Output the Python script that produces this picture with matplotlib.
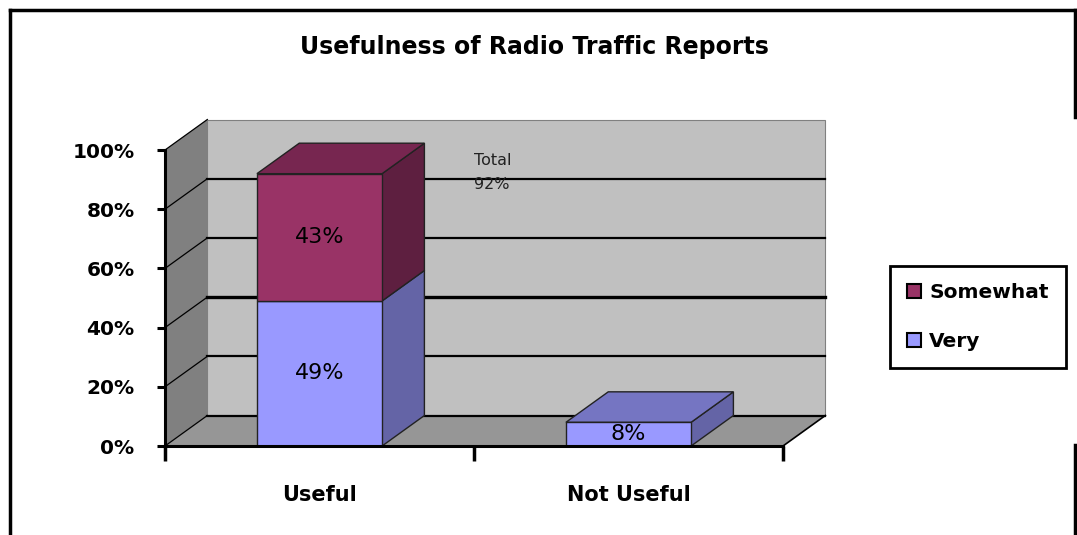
import matplotlib.pyplot as plt
from matplotlib.patches import Polygon, Patch
from matplotlib.lines import Line2D

# chart data
categories = ["Useful", "Not Useful"]
very = [49, 8]
somewhat = [43, 0]
totals = [92, 8]
series_names = ["Somewhat", "Very"]
yticks = [0, 20, 40, 60, 80, 100]
ytick_labels = ["0%", "20%", "40%", "60%", "80%", "100%"]

W, H = 1077, 535
fig = plt.figure(figsize=(W / 100, H / 100), dpi=100)
fig.patch.set_facecolor("white")

# front plane of the fake 3D box
ax = fig.add_axes([165 / W, 1 - 446 / H, 618 / W, 296 / H])
ax.set_xlim(0, len(categories))
ax.set_ylim(0, 100)
ax.set_facecolor("none")

DX, DY = 0.137, 10.3   # depth offset (x units, % units)
n = len(categories)

# walls and floor
ax.add_patch(Polygon([(DX, DY), (n + DX, DY), (n + DX, 100 + DY), (DX, 100 + DY)],
                     closed=True, fc="#c0c0c0", ec="#808080", lw=0.8, clip_on=False, zorder=0.5))
ax.add_patch(Polygon([(0, 0), (DX, DY), (DX, 100 + DY), (0, 100)],
                     closed=True, fc="#808080", ec="none", clip_on=False, zorder=0.6))
ax.add_patch(Polygon([(0, 0), (n, 0), (n + DX, DY), (DX, DY)],
                     closed=True, fc="#969696", ec="none", clip_on=False, zorder=0.6))
ax.plot([n, n + DX], [0, DY], color="black", lw=1.2, clip_on=False, zorder=0.7)

# gridlines on back wall and side wall
for v in yticks:
    lw = 2.4 if v == 40 else 1.6
    if v < 100:
        ax.plot([DX, n + DX], [v + DY, v + DY], color="black", lw=lw, clip_on=False, zorder=1)
    ax.plot([0, DX], [v, v + DY], color="black", lw=0.9, clip_on=False, zorder=1)

# bars
x = [i + 0.5 for i in range(n)]
bw = 0.405
seg_colors = {
    "Very": ("#9999ff", "#6464a6", "#7575c2"),
    "Somewhat": ("#993366", "#5e1f40", "#772650"),
}
for i, xc in enumerate(x):
    x0, x1 = xc - bw / 2, xc + bw / 2
    segs = [("Very", 0, very[i]), ("Somewhat", very[i], very[i] + somewhat[i])]
    segs = [s for s in segs if s[2] > s[1]]
    for k, (name, y0, y1) in enumerate(segs):
        front, side, top = seg_colors[name]
        ax.bar(xc, y1 - y0, bottom=y0, width=bw, color=front, edgecolor="#222222",
               lw=1.0, zorder=3)
        ax.add_patch(Polygon([(x1, y0), (x1 + DX, y0 + DY), (x1 + DX, y1 + DY), (x1, y1)],
                             closed=True, fc=side, ec="#222222", lw=1.0,
                             clip_on=False, zorder=2.5))
        if k == len(segs) - 1:
            ax.add_patch(Polygon([(x0, y1), (x1, y1), (x1 + DX, y1 + DY), (x0 + DX, y1 + DY)],
                                 closed=True, fc=top, ec="#222222", lw=1.0,
                                 clip_on=False, zorder=2.5))
        ax.text(xc, (y0 + y1) / 2, f"{y1 - y0}%", ha="center", va="center",
                fontsize=16, color="black", zorder=4)

ax.text(1.0, 99, f"Total\n{totals[0]}%", ha="left", va="top", fontsize=11.5,
        linespacing=1.75, color="#222222", zorder=4)

# axes styling
for s in ["top", "right"]:
    ax.spines[s].set_visible(False)
for s in ["left", "bottom"]:
    ax.spines[s].set_linewidth(2.2)
    ax.spines[s].set_zorder(5)
ax.set_yticks(yticks)
ax.set_yticklabels(ytick_labels, fontsize=14.5, fontweight="bold")
ax.tick_params(axis="y", length=6, width=2.2, pad=16, direction="out")
ax.set_xticks(range(n + 1))
ax.set_xticklabels([])
ax.tick_params(axis="x", which="major", length=11, width=2.5, direction="out")
ax.set_xticks(x, minor=True)
ax.set_xticklabels(categories, minor=True, fontsize=15, fontweight="bold")
ax.tick_params(axis="x", which="minor", length=0, pad=28)

# title
fig.text(534 / W, 1 - 47 / H, "Usefulness of Radio Traffic Reports", ha="center",
         va="center", fontsize=17, fontweight="bold")

# legend
handles = [Patch(facecolor=seg_colors[nm][0], edgecolor="black", lw=1.5) for nm in series_names]
leg = fig.legend(handles, series_names, loc="center",
                 bbox_to_anchor=(978 / W, 1 - 317 / H), frameon=True, fancybox=False,
                 framealpha=1, edgecolor="black", prop={"size": 14.5, "weight": "bold"},
                 handlelength=0.7, handleheight=0.7, handletextpad=0.4,
                 labelspacing=1.45, borderpad=0.85, borderaxespad=0)
leg.get_frame().set_linewidth(2)

# outer frame
frame_kw = dict(color="black", lw=2.5, transform=fig.transFigure)
fig.add_artist(Line2D([10 / W, 1075 / W], [1 - 10 / H, 1 - 10 / H], **frame_kw))
fig.add_artist(Line2D([10 / W, 10 / W], [1 - 10 / H, 0], **frame_kw))
fig.add_artist(Line2D([1075 / W, 1075 / W], [1 - 10 / H, 1 - 117 / H], **frame_kw))
fig.add_artist(Line2D([1075 / W, 1075 / W], [1 - 445 / H, 0], **frame_kw))

fig.savefig("out.png", dpi=100)
